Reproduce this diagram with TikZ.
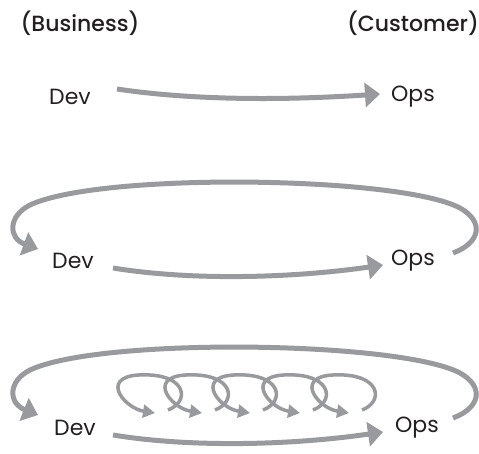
\documentclass[tikz,border=0pt]{standalone}
\usepackage{fontspec}
\setmainfont{Poppins}
\newfontfamily\headfont{Poppins Medium}
\usetikzlibrary{arrows.meta}
\definecolor{loopgray}{RGB}{153,154,158}
\definecolor{inkblack}{RGB}{35,31,32}

\begin{document}
\begin{tikzpicture}[x=1pt,y=-1pt,
  flow/.style={draw=loopgray,line width=5pt,-{Triangle[length=15pt,width=24pt]}},
  curl/.style={draw=loopgray,line width=3.5pt,-{Triangle[length=12pt,width=13pt]}},
  word/.style={text=inkblack,inner sep=0pt,font=\fontsize{22}{24}\selectfont},
  head/.style={word,font=\fontsize{22}{24}\selectfont\headfont}]
\useasboundingbox (0,0) rectangle (479,453);
\node[head] (biz) at (80,23) {(Business)};
\node[head] (cust) at (413,23) {(Customer)};
\node[word] (dev1) at (70,97) {Dev};
\node[word] (ops1) at (413,97) {Ops};
\node[word] (dev2) at (73,261) {Dev};
\node[word] (ops2) at (413,261) {Ops};
\node[word] (dev3) at (75,428) {Dev};
\node[word] (ops3) at (417,428) {Ops};
% dev to ops
\draw[flow] ([shift={(47,-8)}]dev1.center) .. controls +(80,12) and +(-90,6) .. ([shift={(-33,-3)}]ops1.center);
\draw[flow] ([shift={(40,7)}]dev2.center) .. controls +(80,13) and +(-90,13) .. ([shift={(-30,4)}]ops2.center);
\draw[flow] ([shift={(38,7)}]dev3.center) .. controls +(80,13) and +(-90,13) .. ([shift={(-34,4)}]ops3.center);
% ops back to dev
\draw[flow] ([shift={(40,-8)}]ops2.center) .. controls (480,243) and (485,222) .. (460,208)
  .. controls (400,176) and (100,172) .. (30,205) .. controls (8,216) and (8,238) .. ([shift={(-35,-12)}]dev2.center);
\draw[flow] ([shift={(36,-10)}]ops3.center) .. controls (480,408) and (485,387) .. (460,373)
  .. controls (400,341) and (100,337) .. (30,370) .. controls (8,381) and (8,403) .. ([shift={(-37,-13)}]dev3.center);
% small loops
\draw[curl] (168,410) .. controls (189,402) and (187,377) .. (150,375) .. controls (95,372) and (123,408) .. (155,413);
\draw[curl] (215,410) .. controls (236,402) and (234,377) .. (197,375) .. controls (142,372) and (170,408) .. (202,413);
\draw[curl] (263,410) .. controls (284,402) and (282,377) .. (245,375) .. controls (190,372) and (218,408) .. (250,413);
\draw[curl] (313,410) .. controls (334,402) and (332,377) .. (295,375) .. controls (240,372) and (268,408) .. (300,413);
\draw[curl] (362,410) .. controls (383,402) and (381,377) .. (344,375) .. controls (289,372) and (317,408) .. (349,413);
\end{tikzpicture}
\end{document}
